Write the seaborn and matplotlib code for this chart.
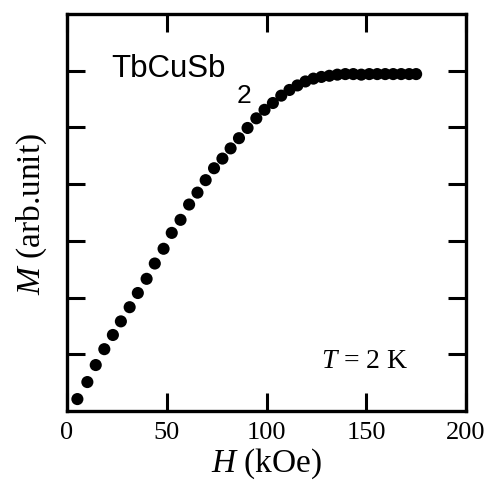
import numpy as np
import pandas as pd
import seaborn as sns
import matplotlib.pyplot as plt

# magnetization curve (M in arbitrary units, 1 unit = 1 tick)
field = [5.2, 10.2, 14.4, 18.7, 23.0, 27.0, 31.4, 35.5, 39.9, 44.0,
         48.4, 52.5, 56.9, 61.2, 65.4, 69.5, 73.7, 77.9, 82.0, 86.2,
         90.5, 94.9, 99.0, 103.2, 107.4, 111.5, 115.5, 119.5, 123.5, 127.5,
         131.5, 135.5, 139.5, 143.5, 147.5, 151.5, 155.5, 159.5, 163.5, 167.5,
         171.5, 175.0]
moment = [0.21, 0.51, 0.81, 1.09, 1.34, 1.58, 1.83, 2.08, 2.33, 2.60,
          2.86, 3.14, 3.37, 3.64, 3.85, 4.07, 4.28, 4.45, 4.63, 4.81,
          4.99, 5.16, 5.31, 5.43, 5.56, 5.66, 5.74, 5.81, 5.86, 5.89,
          5.91, 5.93, 5.94, 5.94, 5.93, 5.94, 5.94, 5.94, 5.94, 5.94,
          5.94, 5.94]
x_ticks = [0, 50, 100, 150, 200]
y_ticks = [1, 2, 3, 4, 5, 6]

df = pd.DataFrame({"H": field, "M": moment})

sns.set_theme(style="ticks")
plt.rcParams["font.family"] = ["Liberation Serif", "DejaVu Serif"]
plt.rcParams["mathtext.fontset"] = "custom"
plt.rcParams["mathtext.rm"] = "Liberation Serif"
plt.rcParams["mathtext.it"] = "Liberation Serif:italic"
plt.rcParams["text.color"] = "black"
plt.rcParams["axes.labelcolor"] = "black"

fig = plt.figure(figsize=(4.87, 4.89), dpi=100)
ax = fig.add_axes([0.1376, 0.1575, 0.8193, 0.8119])

sns.scatterplot(data=df, x="H", y="M", ax=ax, color="black", s=76,
                edgecolor="none", linewidth=0, zorder=3)

ax.set_xlim(0, 200)
ax.set_ylim(0, 7)
ax.set_xticks(x_ticks)
ax.set_yticks(y_ticks)
ax.set_yticklabels([])
ax.tick_params(direction="in", length=13, width=2.2, top=True, right=True,
               labelsize=19, pad=7, colors="black")
for sp in ax.spines.values():
    sp.set_linewidth(2.4)
    sp.set_color("black")

ax.set_xlabel(r"$H$ (kOe)", fontsize=24, labelpad=2)
ax.set_ylabel(r"$M$ (arb.unit)", fontsize=24, labelpad=6)

# compound name, subscript drawn as its own text to sit low like the original
ax.text(0.112, 0.844, "TbCuSb", transform=ax.transAxes,
        fontsize=22.5, family="Liberation Sans", ha="left", va="baseline")
ax.text(0.426, 0.778, "2", transform=ax.transAxes,
        fontsize=19, family="Liberation Sans", ha="left", va="baseline")
ax.text(0.857, 0.111, r"$T$ = 2 K", transform=ax.transAxes,
        fontsize=20, ha="right", va="baseline")

fig.savefig("out.png", dpi=100)
